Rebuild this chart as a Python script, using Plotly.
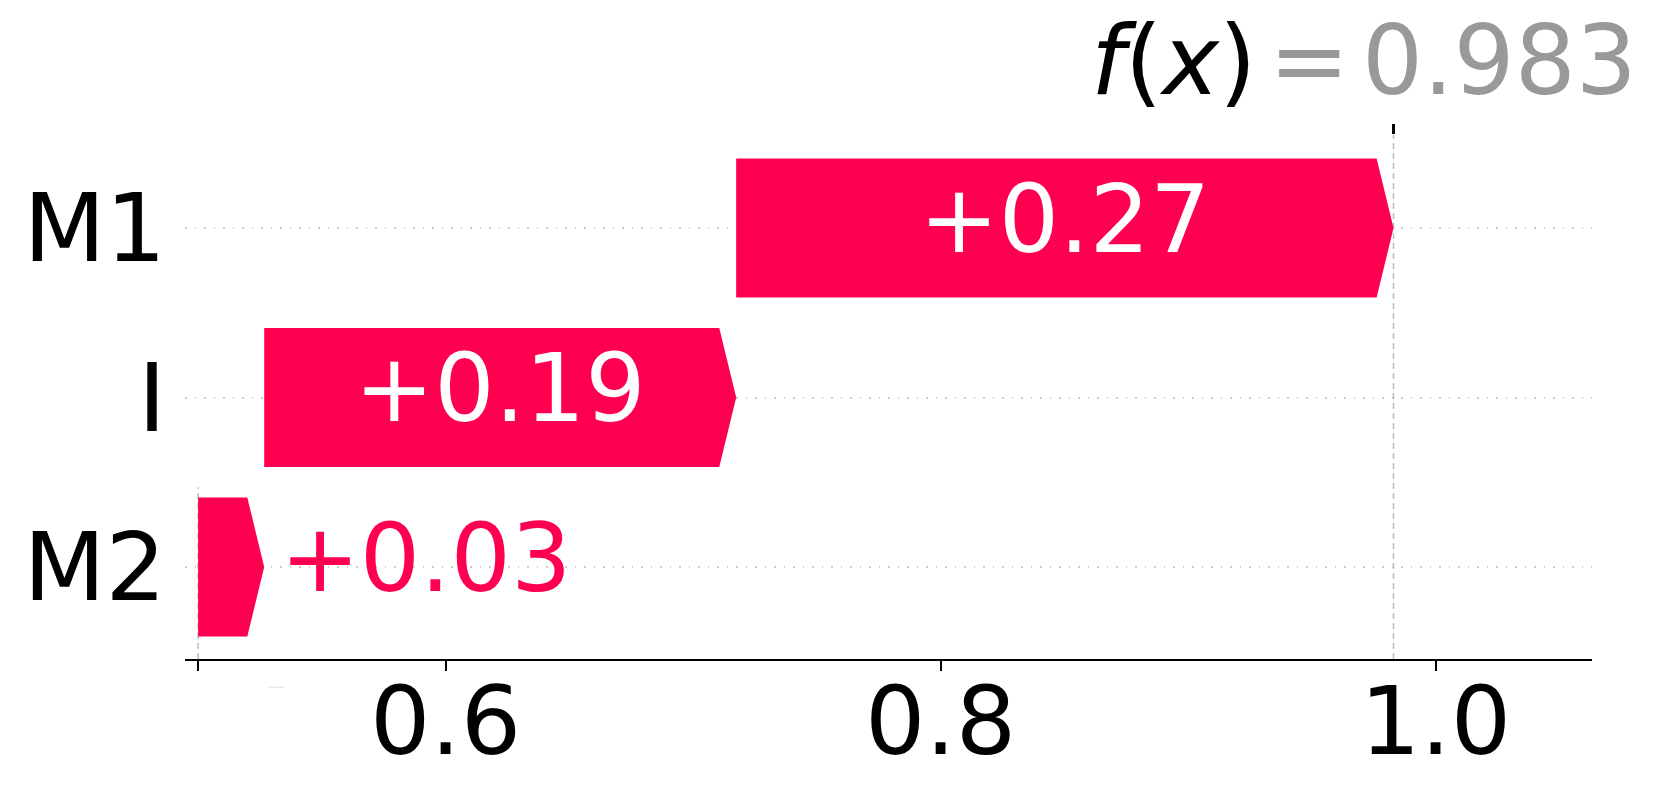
""" SHAP-style waterfall chart for a single prediction """
import plotly.graph_objects as go

# data (bottom row first)
features = ["M2", "I", "M1"]
shap_values = [0.0267, 0.1907, 0.2656]
value_labels = ["+0.03", "+0.19", "+0.27"]
base_value = 0.5
fx = 0.983
tick_vals = [0.5, 0.6, 0.8, 1.0]
tick_text = ["", "0.6", "0.8", "1.0"]

RED = "#ff0051"
GREY = "#999999"
FONT = "DejaVu Sans"
FS = 95

x_range = [0.4947, 1.0632]
y_range = [-0.543, 2.549]
span = x_range[1] - x_range[0]
head = 0.012 * span
half = 0.41

fig = go.Figure()

start = base_value
for i, (name, val, lab) in enumerate(zip(features, shap_values, value_labels)):
    end = start + val
    xs = [start, end - head, end, end - head, start, start]
    ys = [i - half, i - half, i, i + half, i + half, i - half]
    fig.add_trace(go.Scatter(x=xs, y=ys, fill="toself", fillcolor=RED,
                             mode="lines", line=dict(width=0, color=RED),
                             hoverinfo="skip", showlegend=False))
    # label inside the bar if it fits, otherwise right of the tip
    if val > 0.1:
        fig.add_trace(go.Scatter(x=[(start + end) / 2], y=[i], mode="text",
                                 text=[lab], textposition="middle center",
                                 textfont=dict(size=FS, color="white", family=FONT),
                                 hoverinfo="skip", showlegend=False))
    else:
        fig.add_trace(go.Scatter(x=[end + 0.0065], y=[i], mode="text",
                                 text=[lab], textposition="middle right",
                                 textfont=dict(size=FS, color=RED, family=FONT),
                                 hoverinfo="skip", showlegend=False))
    start = end

# dashed reference lines at E[f(X)] and f(x)
fig.add_shape(type="line", xref="x", yref="paper", x0=fx, x1=fx, y0=0, y1=1,
              line=dict(color="#bbbbbb", width=1.5, dash="6px,4px"), layer="below")
fig.add_shape(type="line", xref="x", yref="y", x0=base_value, x1=base_value,
              y0=y_range[0], y1=0.47,
              line=dict(color="#bbbbbb", width=1.5, dash="6px,4px"), layer="below")

# invisible trace on top axis so its tick shows
fig.add_trace(go.Scatter(x=[fx], y=[0], xaxis="x2", mode="markers",
                         marker=dict(opacity=0), hoverinfo="skip", showlegend=False))

# f(x) = value, written like the top-axis labels of a shap waterfall
title_y = 1.142
fig.add_annotation(xref="paper", yref="paper", x=0.7633, y=title_y,
                   xanchor="right", yanchor="middle",
                   text="<i>f</i>(<i>x</i>)",
                   showarrow=False, font=dict(size=96, color="black", family=FONT))
fig.add_annotation(xref="paper", yref="paper", x=0.7989, y=title_y,
                   xanchor="center", yanchor="middle", text="=",
                   showarrow=False, font=dict(size=96, color=GREY, family=FONT))
fig.add_annotation(xref="paper", yref="paper", x=1.0337, y=title_y,
                   xanchor="right", yanchor="middle", text="%.3f" % fx,
                   showarrow=False, font=dict(size=96, color=GREY, family=FONT))

# the E[f(X)] label of the base value is drawn tiny in the source image
fig.add_annotation(xref="paper", yref="paper", x=0.0583, y=-0.0553,
                   xanchor="left", yanchor="middle",
                   text="<i>E</i>[<i>f</i>(<i>X</i>)] = %.3f" % base_value,
                   showarrow=False, font=dict(size=2, color="#aaaaaa", family=FONT))

fig.update_layout(
    width=1660, height=795,
    margin=dict(l=177, r=76, t=127, b=144),
    plot_bgcolor="white", paper_bgcolor="white",
    font=dict(family=FONT, size=FS, color="black"),
    xaxis=dict(range=x_range, tickvals=tick_vals, ticktext=tick_text,
               automargin=False, showgrid=False, zeroline=False, showline=True,
               linecolor="black", linewidth=2, ticks="outside", ticklen=10,
               tickwidth=2, tickcolor="black", ticklabelstandoff=-31,
               tickfont=dict(size=FS)),
    xaxis2=dict(range=x_range, overlaying="x", side="top", tickvals=[fx],
                automargin=False, showticklabels=False, showgrid=False,
                zeroline=False, showline=False,
                ticks="outside", ticklen=10, tickwidth=3, tickcolor="black"),
    yaxis=dict(range=y_range, tickvals=[0, 1, 2], ticktext=features,
               automargin=False, showgrid=True, gridcolor="#cccccc",
               griddash="1.5px,8px", gridwidth=1.5,
               zeroline=False, showline=False, ticks="", ticklabelstandoff=18,
               tickfont=dict(size=FS)),
)

fig.write_html("out.html")
